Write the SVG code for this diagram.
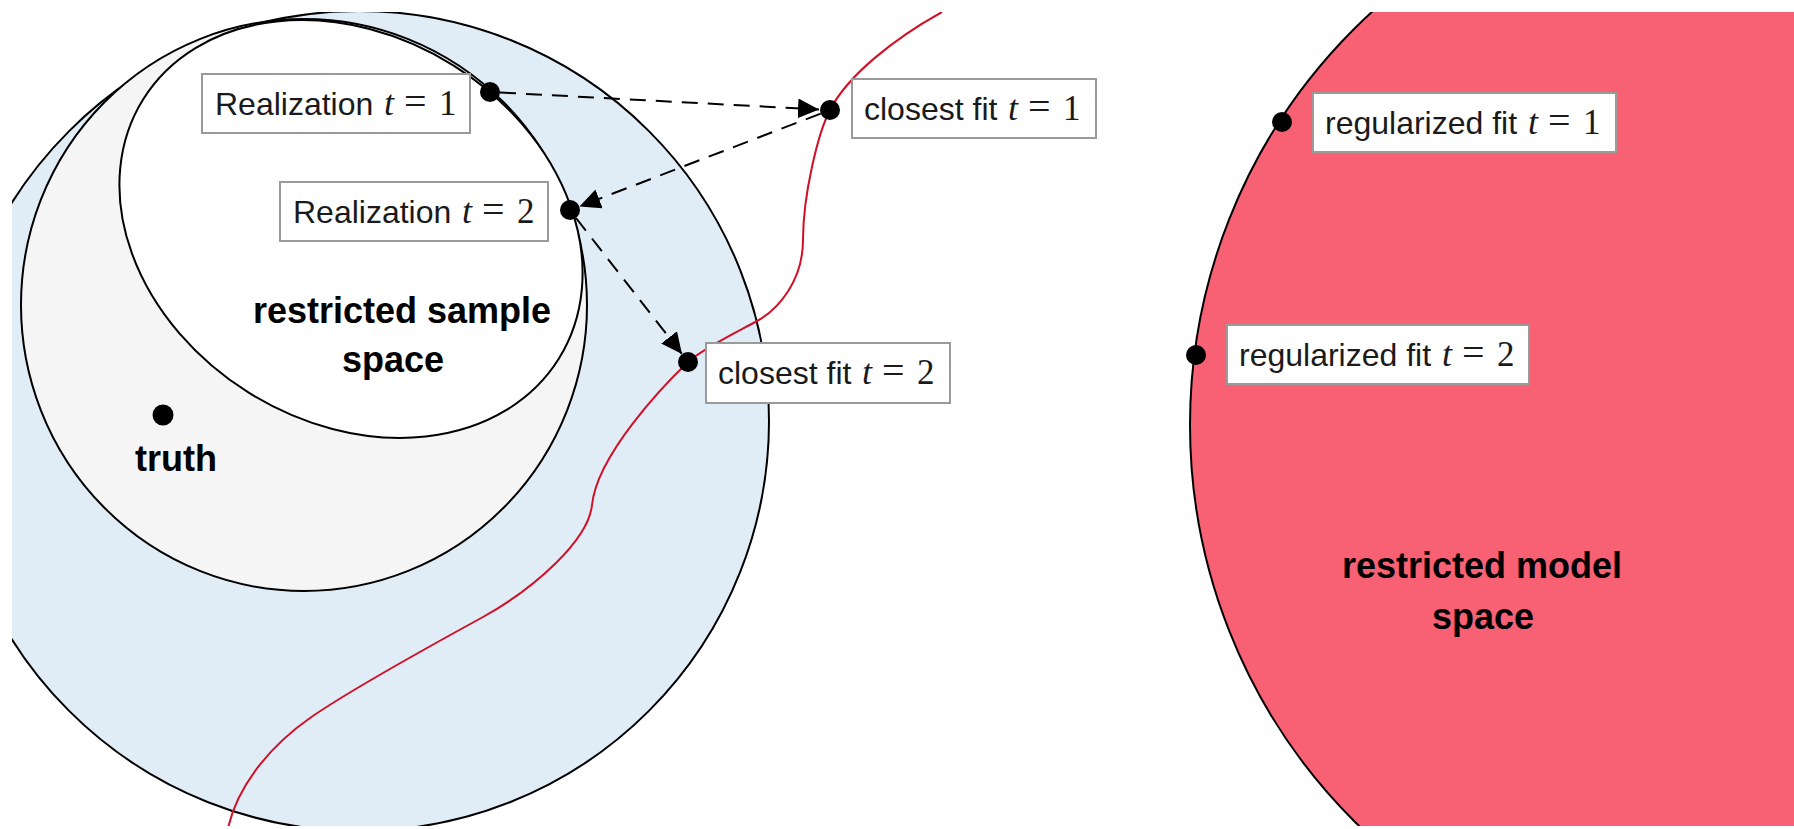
<svg xmlns="http://www.w3.org/2000/svg" width="1794" height="829" viewBox="0 0 1794 829">
<defs>
<clipPath id="clip"><rect x="12" y="12" width="1782" height="814"/></clipPath>
<marker id="ah" markerUnits="userSpaceOnUse" markerWidth="24" markerHeight="22" refX="21" refY="10" orient="auto"><path d="M0,0 L21,10 L0,20 Z" fill="#000"/></marker>
<style>
.ln{stroke:#000;stroke-width:2}
.dot{fill:#000}
.box{fill:#fff;stroke:#9a9a9a;stroke-width:2}
.lbl{font-family:"Liberation Sans",Arial,sans-serif;font-size:32px;fill:#1a1a1a}
.mi{font-family:"Liberation Serif","Times New Roman",serif;font-style:italic;font-size:36px;fill:#1a1a1a}
.eq{font-family:"Liberation Serif","Times New Roman",serif;font-size:40px;fill:#1a1a1a}
.mn{font-family:"Liberation Serif","Times New Roman",serif;font-size:35px;fill:#1a1a1a}
.big{font-family:"Liberation Sans",Arial,sans-serif;font-weight:bold;font-size:36px;fill:#000;text-anchor:middle}
.arr{fill:none;stroke:#000;stroke-width:2;stroke-dasharray:16 10;marker-end:url(#ah)}
</style>
</defs>
<rect width="1794" height="829" fill="#fff"/>
<g clip-path="url(#clip)">
<g id="sample-outer"><circle cx="359" cy="421" r="410" fill="#E1EDF6" class="ln"/></g>
<g id="sample-mid"><ellipse cx="304" cy="305" rx="283" ry="286" fill="#F5F5F5" class="ln"/></g>
<g id="sample-restricted"><ellipse cx="351" cy="229" rx="245" ry="193" transform="rotate(32 351 229)" fill="#fff" class="ln"/>
<text class="big" x="402" y="323">restricted sample</text>
<text class="big" x="393" y="372">space</text></g>
<g id="model-space"><circle cx="1750" cy="425" r="560" fill="#F86074" class="ln"/>
<text class="big" x="1482" y="578">restricted model</text>
<text class="big" x="1483" y="629">space</text></g>
<g id="model-curve"><path d="M942 12 C895 38 848 75 830 110 C818 133 803 195 803 240 C803 280 779 309 757 321 C735 333 702 349 688 362 C664 385 597 455 592 505 C588.5 540 535 588 483 617 C430 646 350 690 310 718 C270 746 232 790 226 840" fill="none" stroke="#D10F26" stroke-width="2"/></g>
</g>
<g id="connectors">
<path class="arr" d="M500 92.5 L819 109.5"/>
<path class="arr" d="M820.7 113.6 L579.5 206.4"/>
<path class="arr" d="M576 218 L682 354"/>
</g>
<g id="truth"><circle class="dot" cx="163" cy="415" r="10.5"/><text class="big" x="176" y="471">truth</text></g>
<g id="realization-1"><circle class="dot" cx="490" cy="92" r="10"/><rect class="box" x="202" y="74" width="268" height="59"/>
<text class="lbl" x="215" y="115">Realization</text><text class="mi" x="384" y="115">t</text><text class="eq" x="404" y="115">=</text><text class="mn" x="439" y="115">1</text></g>
<g id="realization-2"><circle class="dot" cx="570" cy="210" r="10"/><rect class="box" x="280" y="182" width="268" height="59"/>
<text class="lbl" x="293" y="223">Realization</text><text class="mi" x="462" y="223">t</text><text class="eq" x="482" y="223">=</text><text class="mn" x="517" y="223">2</text></g>
<g id="closest-1"><circle class="dot" cx="830" cy="110" r="10"/><rect class="box" x="852" y="79" width="244" height="59"/>
<text class="lbl" x="864" y="120">closest fit</text><text class="mi" x="1008" y="120">t</text><text class="eq" x="1028" y="120">=</text><text class="mn" x="1063" y="120">1</text></g>
<g id="closest-2"><circle class="dot" cx="688" cy="362" r="10"/><rect class="box" x="706" y="343" width="244" height="60"/>
<text class="lbl" x="718" y="384">closest fit</text><text class="mi" x="862" y="384">t</text><text class="eq" x="882" y="384">=</text><text class="mn" x="917" y="384">2</text></g>
<g id="regularized-1"><circle class="dot" cx="1282" cy="122" r="10"/><rect class="box" x="1313" y="93" width="303" height="59"/>
<text class="lbl" x="1325" y="134">regularized fit</text><text class="mi" x="1528" y="134">t</text><text class="eq" x="1548" y="134">=</text><text class="mn" x="1583" y="134">1</text></g>
<g id="regularized-2"><circle class="dot" cx="1196" cy="355" r="10"/><rect class="box" x="1227" y="325" width="302" height="59"/>
<text class="lbl" x="1239" y="366">regularized fit</text><text class="mi" x="1442" y="366">t</text><text class="eq" x="1462" y="366">=</text><text class="mn" x="1497" y="366">2</text></g>
</svg>
